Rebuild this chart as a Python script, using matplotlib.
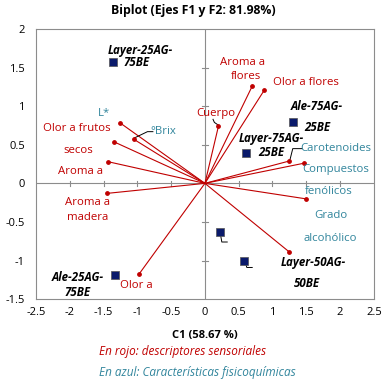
import matplotlib
matplotlib.use("Agg")
import matplotlib.pyplot as plt

plt.rcParams['font.family'] = ['Open Sans', 'DejaVu Sans']

RED = '#C00000'
TEAL = '#31859C'
NAVY = '#0A1A6B'
GRAY = '#8C8C8C'

# variable vectors (end points)
vec_x = [0.70, 0.88, 0.20, -1.25, -1.05, -1.35, -1.43, -1.45, 1.25, 1.46, 1.49, 1.25, -0.97]
vec_y = [1.26, 1.21, 0.74, 0.78, 0.57, 0.54, 0.28, -0.13, 0.29, 0.26, -0.20, -0.89, -1.17]

# observations
obs_x = [-1.36, 1.31, 0.61, 0.22, 0.585, -1.33]
obs_y = [1.57, 0.79, 0.39, -0.63, -1.00, -1.19]

# red labels (sensory) : text, x, y
red_labels = [
    ("Aroma a", 0.56, 1.57), ("flores", 0.61, 1.39),
    ("Olor a flores", 1.49, 1.31),
    ("Cuerpo", 0.16, 0.90),
    ("Olor a frutos", -1.89, 0.71), ("secos", -1.88, 0.43),
    ("Aroma a", -1.84, 0.15),
    ("Aroma a", -1.74, -0.25), ("madera", -1.74, -0.44),
    ("Olor a", -1.01, -1.32),
]
# teal labels (physicochemical)
teal_labels = [
    ("L*", -1.50, 0.91),
    ("°Brix", -0.61, 0.67),
    ("Carotenoides", 1.93, 0.45),
    ("Compuestos", 1.93, 0.18), ("fenólicos", 1.83, -0.11),
    ("Grado", 1.86, -0.42), ("alcohólico", 1.86, -0.71),
]
# observation labels
obs_labels = [
    ("Layer-25AG-", -0.96, 1.72), ("75BE", -1.01, 1.56),
    ("Ale-75AG-", 1.66, 1.00), ("25BE", 1.66, 0.73),
    ("Layer-75AG-", 0.98, 0.58), ("25BE", 0.98, 0.40),
    ("Layer-50AG-", 1.61, -1.02), ("50BE", 1.51, -1.30),
    ("Ale-25AG-", -1.88, -1.22), ("75BE", -1.89, -1.42),
]

fig = plt.figure(figsize=(3.87, 3.82), dpi=100)
ax = fig.add_axes([0.093, 0.217, 0.873, 0.707])
ax.set_xlim(-2.5, 2.5)
ax.set_ylim(-1.5, 2)

for s in ax.spines.values():
    s.set_color(GRAY)
    s.set_linewidth(0.8)

ax.set_xticks([-2.5, -2, -1.5, -1, -0.5, 0, 0.5, 1, 1.5, 2, 2.5])
ax.set_xticklabels(['-2.5', '-2', '-1.5', '-1', '-0.5', '0', '0.5', '1', '1.5', '2', '2.5'])
ax.set_yticks([-1.5, -1, -0.5, 0, 0.5, 1, 1.5, 2])
ax.set_yticklabels(['-1.5', '-1', '-0.5', '0', '0.5', '1', '1.5', '2'])
ax.tick_params(axis='x', length=0, labelsize=8, pad=6)
ax.tick_params(axis='y', length=0, labelsize=8, pad=8)

# zero axes with small cross ticks
ax.axhline(0, color=GRAY, lw=0.8, zorder=1)
ax.axvline(0, color=GRAY, lw=0.8, zorder=1)
for t in [-2, -1.5, -1, -0.5, 0.5, 1, 1.5, 2]:
    ax.plot([t, t], [-0.035, 0.035], color=GRAY, lw=0.8, zorder=1)
for t in [-1, -0.5, 0.5, 1, 1.5]:
    ax.plot([-0.04, 0.04], [t, t], color=GRAY, lw=0.8, zorder=1)

for x, y in zip(vec_x, vec_y):
    ax.plot([0, x], [0, y], color=RED, lw=0.8, zorder=2)
ax.scatter(vec_x, vec_y, s=6, color=RED, zorder=3)

ax.scatter(obs_x, obs_y, s=30, marker='s', color=NAVY, edgecolor='#555555', lw=0.5, zorder=4)

# leader lines
ax.plot([0.12, 0.14, 0.19], [0.83, 0.79, 0.76], color='black', lw=0.7)
ax.plot([-1.04, -0.85, -0.77], [0.59, 0.67, 0.67], color='black', lw=0.7)
ax.plot([1.26, 1.30, 1.44], [0.31, 0.45, 0.45], color='black', lw=0.7)
ax.plot([0.23, 0.25, 0.33], [-0.66, -0.76, -0.76], color='black', lw=0.7)
ax.plot([0.60, 0.62, 0.70], [-1.03, -1.09, -1.09], color='black', lw=0.7)

for t, x, y in red_labels:
    ax.text(x, y, t, color=RED, fontsize=8.2, ha='center', va='center')
for t, x, y in teal_labels:
    ax.text(x, y, t, color=TEAL, fontsize=8.2, ha='center', va='center')
for t, x, y in obs_labels:
    ax.text(x, y, t, color='black', fontsize=8.3, ha='center', va='center',
            fontweight='bold', fontstyle='italic')

fig.text(0.5, 0.973, 'Biplot (Ejes F1 y F2: 81.98%)', ha='center', va='center',
         fontsize=8.8, fontweight='bold')
fig.text(0.53, 0.123, 'C1 (58.67 %)', ha='center', va='center',
         fontsize=8, fontweight='bold')
fig.text(0.256, 0.079, 'En rojo: descriptores sensoriales', ha='left', va='center',
         fontsize=8.5, fontstyle='italic', color=RED)
fig.text(0.256, 0.026, 'En azul: Características fisicoquímicas', ha='left', va='center',
         fontsize=8.5, fontstyle='italic', color=TEAL)

fig.savefig('out.png', dpi=100)
